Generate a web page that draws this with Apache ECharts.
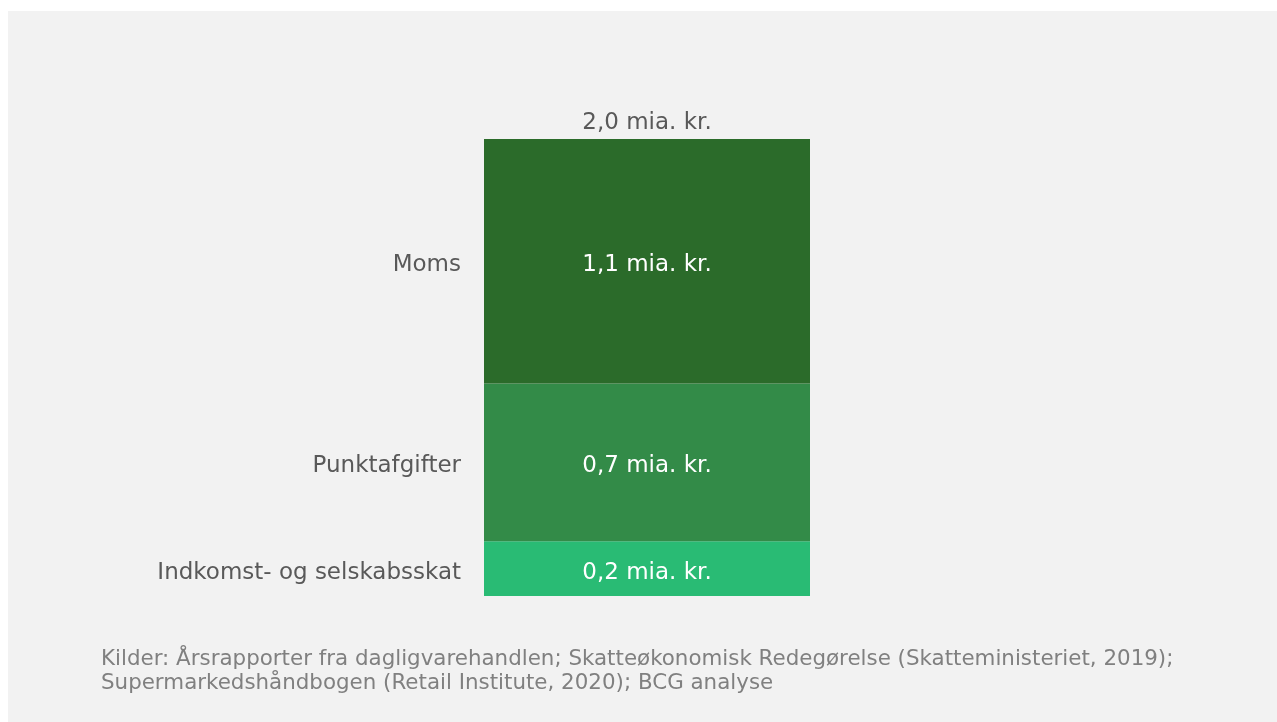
<!DOCTYPE html>
<html><head><meta charset="utf-8">
<script src="https://cdn.jsdelivr.net/npm/echarts@6/dist/echarts.min.js"></script>
<style>
html,body{margin:0;padding:0;background:#ffffff;}
#c{position:absolute;left:8px;top:11px;width:1269px;height:711px;}
</style></head>
<body><div id="c"></div>
<script>
const categories = ['Skat'];
const segmentNames = ['Indkomst- og selskabsskat', 'Punktafgifter', 'Moms'];
const segmentValues = [0.24, 0.69, 1.07];
const segmentColors = ['#29bb74', '#338b48', '#2b6b2a'];
const unit = ' mia. kr.';
const sourceText = 'Kilder: Årsrapporter fra dagligvarehandlen; Skatteøkonomisk Redegørelse (Skatteministeriet, 2019);\nSupermarkedshåndbogen (Retail Institute, 2020); BCG analyse';

const FONT = 'DejaVu Sans';
const total = segmentValues.reduce((a, b) => a + b, 0);
const fmt = v => v.toFixed(1).replace('.', ',') + unit;

const series = [];
segmentNames.forEach((name, i) => {
  series.push({
    name: name, type: 'bar', stack: 'vis', barWidth: '100%', barGap: '-100%',
    data: [segmentValues[i]],
    itemStyle: { color: segmentColors[i] },
    label: { show: true, position: 'inside', offset: [0, 4], color: '#ffffff', fontFamily: FONT, fontSize: 23,
      formatter: p => fmt(p.value) },
    silent: true
  });
});
segmentNames.forEach((name, i) => {
  series.push({
    name: name + ' ', type: 'bar', stack: 'names', barWidth: '100%', barGap: '-100%',
    data: [segmentValues[i]],
    itemStyle: { color: 'transparent' },
    label: { show: true, position: 'left', distance: 23, offset: [0, 4], color: '#595959', fontFamily: FONT, fontSize: 23,
      formatter: () => name },
    silent: true
  });
});
series.push({
  name: 'Total', type: 'bar', stack: 'total', barWidth: '100%', barGap: '-100%',
  data: [total],
  itemStyle: { color: 'transparent' },
  label: { show: true, position: 'top', distance: 4, color: '#595959', fontFamily: FONT, fontSize: 23,
    formatter: p => fmt(p.value) },
  silent: true
});

const chart = echarts.init(document.getElementById('c'));
chart.setOption({
  backgroundColor: '#f2f2f2',
  animation: false,
  title: {
    text: sourceText, left: 88, top: 631,
    textStyle: { fontFamily: FONT, fontSize: 21.4, fontWeight: 'normal', color: '#808080', lineHeight: 24 }
  },
  grid: { left: 476, top: 128, width: 326, bottom: 126, containLabel: false },
  xAxis: { type: 'category', data: categories, show: false },
  yAxis: { type: 'value', min: 0, max: total, show: false },
  series: series
});
</script></body></html>
